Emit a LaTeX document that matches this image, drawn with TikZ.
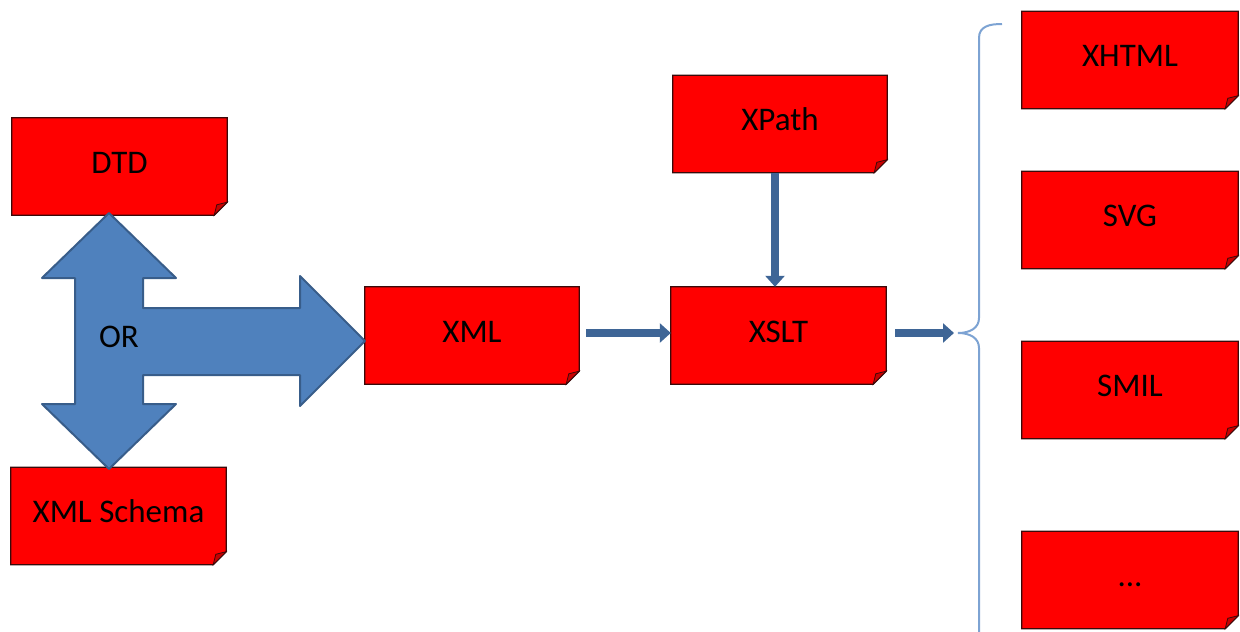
\documentclass[tikz,border=0pt]{standalone}
\usepackage{fontspec}
\setmainfont{Carlito}
\usetikzlibrary{arrows.meta,backgrounds}
\definecolor{boxred}{HTML}{FF0000}
\definecolor{folded}{HTML}{C80000}
\definecolor{boxline}{HTML}{3A0A0A}
\definecolor{bigfill}{HTML}{4F81BD}
\definecolor{bigline}{HTML}{385D8A}
\definecolor{smallarrow}{HTML}{3E6596}
\definecolor{bracecol}{HTML}{7DA3D3}
\tikzset{
 docbox/.style={minimum width=215pt, minimum height=97pt, inner sep=0pt,
   text height=21.25pt, text depth=8pt, font=\fontsize{33}{40}\selectfont},
 docshape/.style={fill=boxred, draw=boxline, line width=1.2pt},
 foldshape/.style={fill=folded, draw=boxline, line width=0.8pt},
 link/.style={draw=smallarrow, line width=8pt, -{Triangle[length=11pt,width=19pt]}},
 bigarrow/.style={fill=bigfill, draw=bigline, line width=2pt, line join=round},
 bracket/.style={draw=bracecol, line width=2pt},
 ortext/.style={font=\fontsize{33}{40}\selectfont, inner sep=0pt},
}
\begin{document}
\begin{tikzpicture}[x=1pt,y=-1pt]
\useasboundingbox (0,0) rectangle (1240,632);
% boxes (text)
\node[docbox] (dtd) at (119.5,166.5) {DTD};
\node[docbox] (schema) at (118.5,516) {XML Schema};
\node[docbox, minimum width=214pt] (xml) at (472,335.5) {XML};
\node[docbox, minimum width=214pt] (xpath) at (780,124) {XPath};
\node[docbox] (xslt) at (778.5,335.5) {XSLT};
\node[docbox, minimum width=216pt] (xhtml) at (1130,60) {XHTML};
\node[docbox, minimum width=216pt] (svg) at (1130,220) {SVG};
\node[docbox, minimum width=216pt] (smil) at (1130,390) {SMIL};
\node[docbox, minimum width=216pt] (more) at (1130,580) {...};
% box shapes behind the text
\begin{scope}[on background layer]
\foreach \n in {dtd,schema,xml,xpath,xslt,xhtml,svg,smil,more}{
  \draw[docshape] (\n.north west) -- (\n.north east) -- ([yshift=13pt]\n.south east)
     -- ([xshift=-13pt]\n.south east) -- (\n.south west) -- cycle;
  \draw[foldshape] ([xshift=-13pt]\n.south east) -- ([xshift=-10.4pt,yshift=10.4pt]\n.south east)
     -- ([yshift=13pt]\n.south east) -- cycle;
}
\end{scope}
% big three-way arrow
\draw[bigarrow] (109,213) -- (176,278) -- (143,278) -- (143,308) -- (300,308) -- (300,276)
  -- (365,341) -- (300,406) -- (300,375) -- (143,375) -- (143,404) -- (176,404)
  -- (109,469) -- (42,404) -- (75,404) -- (75,278) -- (42,278) -- cycle;
\node[ortext] (or) at (119,337) {OR};
% small connectors
\coordinate (bracetip) at (958,333);
\draw[link] ([xshift=7pt,yshift=2.5pt]xml.east) -- ([yshift=2.5pt]xslt.west);
\draw[link] ([xshift=-5pt]xpath.south) -- ([xshift=-3.5pt]xslt.north);
\draw[link] ([xshift=9pt,yshift=2.5pt]xslt.east) -- ([xshift=-4pt]bracetip);
% brace
\draw[bracket] (1002,24) .. controls (990,24) and (979,26) .. (979,38) -- (979,318)
  .. controls (979,328) and (970,333) .. (bracetip)
  .. controls (970,333) and (979,338) .. (979,348) -- (979,640);
\end{tikzpicture}
\end{document}
